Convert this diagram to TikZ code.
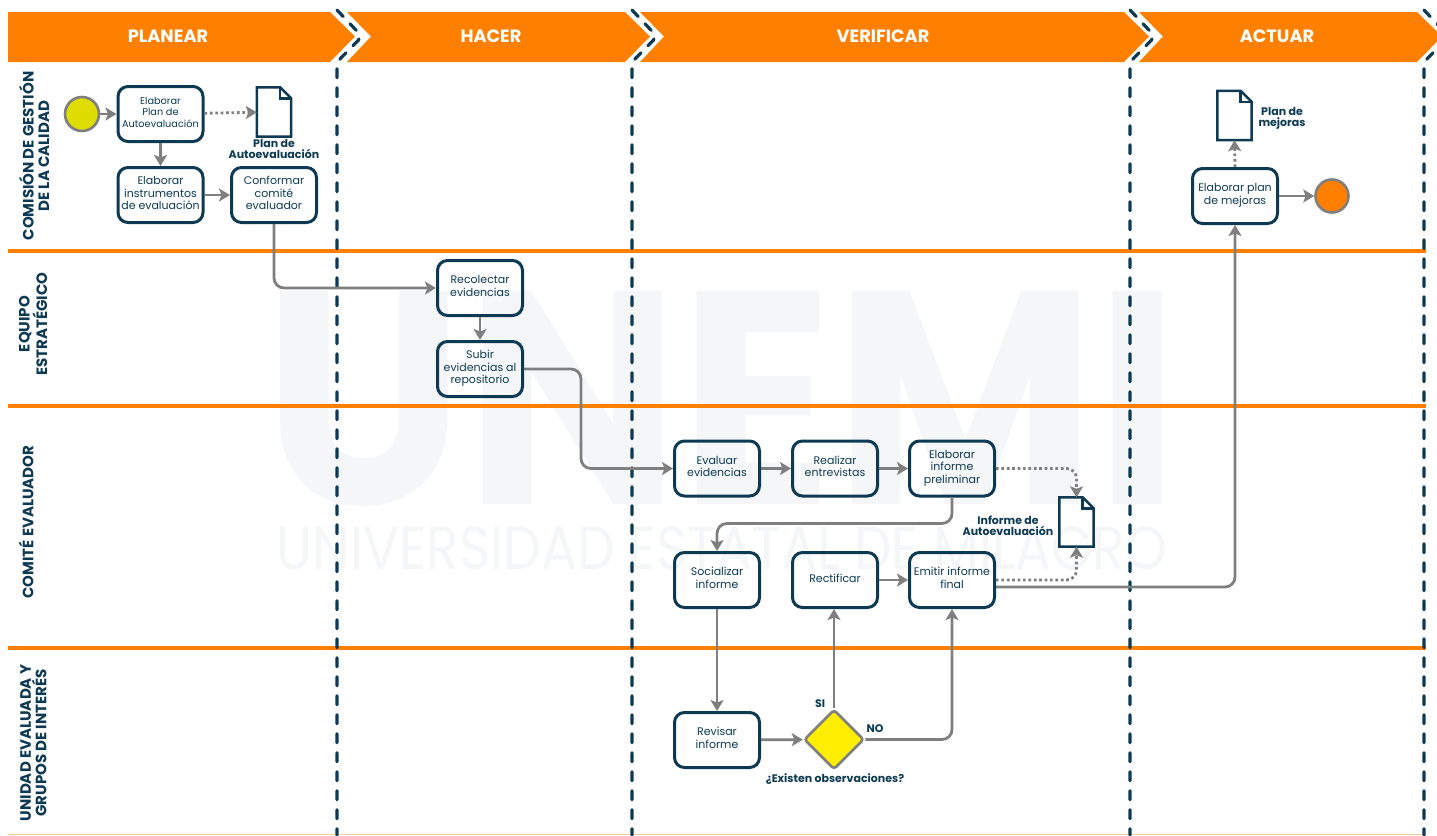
\documentclass[tikz,border=0pt]{standalone}
\usepackage{fontspec}
\usepackage{graphicx}
\setmainfont{Poppins}
\usetikzlibrary{arrows.meta,shapes.geometric}
\definecolor{navy}{HTML}{0D3A52}
\definecolor{flecha}{HTML}{7F7F7F}
\definecolor{naranja}{HTML}{FF8000}
\definecolor{amarillo}{HTML}{FFEE00}
\definecolor{lima}{HTML}{DFDC00}
\definecolor{marca}{HTML}{F4F6F8}
\tikzstyle{every picture}+=[x=1pt,y=-1pt]
\tikzstyle{tarea}=[draw=navy,line width=3pt,rounded corners=10pt,minimum width=85pt,minimum height=55pt,
  inner sep=0pt,align=center,text=navy,font=\fontsize{11}{12.5}\selectfont,
  execute at end node={\rule[-4pt]{0pt}{4pt}}]
\tikzstyle{etiqueta}=[align=center,text=navy,inner sep=0pt,font=\bfseries\fontsize{11}{11}\selectfont]
\tikzstyle{carril}=[align=center,text=navy,inner sep=0pt,rotate=90,font=\bfseries\fontsize{15}{15.5}\selectfont]
\tikzstyle{titulo}=[text=white,inner sep=0pt,font=\bfseries\fontsize{17.8}{18}\selectfont]
\tikzstyle{flujo}=[draw=flecha,line width=2.8pt,rounded corners=10pt,-{Stealth[length=11pt,width=13pt,inset=2.5pt]}]
\tikzstyle{punteado}=[flujo,dash pattern=on 2.7pt off 2.7pt]
\tikzstyle{hoja}=[minimum width=34pt,minimum height=49pt,inner sep=0pt]
\tikzstyle{lineahoja}=[draw=navy,line width=2.5pt,line join=miter]
\newcommand{\hojadoc}[3]{%
  \path (#2,#3) node[hoja] (#1) {};
  \draw[lineahoja] (#1.north west) -- ([xshift=-11pt]#1.north east) -- ([yshift=-11pt]#1.north east)
     -- (#1.south east) -- (#1.south west) -- cycle;
  \draw[lineahoja] ([xshift=-11pt]#1.north east) -- ([xshift=-11pt,yshift=-11pt]#1.north east) -- ([yshift=-11pt]#1.north east);
}
\begin{document}
\begin{tikzpicture}
\useasboundingbox (0,0) rectangle (1437,835);
\clip (0,0) rectangle (1437,835);

% marca de agua
\path (722,398.5) node[inner sep=0pt,text=marca] (marcagrande)
  {\resizebox{915pt}{213pt}{\bfseries UNEMI}};
\path (722,548) node[inner sep=0pt,text=marca] (marcachica)
  {\resizebox{890pt}{43pt}{UNIVERSIDAD ESTATAL DE MILAGRO}};

% encabezado
\fill[naranja] (8,12) -- (330,12) -- (355,36.5) -- (330,62) -- (8,62) -- cycle;
\fill[naranja] (347,12) -- (625,12) -- (650,36.5) -- (625,62) -- (347,62) -- (371,36.5) -- cycle;
\fill[naranja] (640,12) -- (1124,12) -- (1149,36.5) -- (1124,62) -- (640,62) -- (664,36.5) -- cycle;
\fill[naranja] (1139,12) -- (1417,12) -- (1442,36.5) -- (1417,62) -- (1139,62) -- (1163,36.5) -- cycle;
\path (168,36) node[titulo] (planear) {PLANEAR};
\path (491,36) node[titulo] (hacer) {HACER};
\path (883,36) node[titulo] (verificar) {VERIFICAR};
\path (1277,36) node[titulo] (actuar) {ACTUAR};

% carriles
\foreach \y in {250.5,406,648}
  \draw[naranja,line width=4pt] (8,\y) -- (1426,\y);
\draw[naranja!40,line width=1pt] (8,834.5) -- (1426,834.5);
\foreach \x in {337,632,1130,1424}
  \draw[navy,line width=3.2pt,line cap=round,dash pattern=on 9pt off 10pt,rounded corners=5pt]
    (\x,10) -- ({\x+25},36.5) -- (\x,62) -- (\x,835);

\path (34,156) node[carril] (comision) {COMISIÓN DE GESTIÓN\\DE LA CALIDAD};
\path (33,324) node[carril] (equipo) {EQUIPO\\ESTRATÉGICO};
\path (26,522) node[carril] (comite) {COMITÉ EVALUADOR};
\path (33.5,743) node[carril] (unidad) {UNIDAD EVALUADA Y\\GRUPOS DE INTERÉS};

% planear
\path (82,114) node[circle,draw=flecha,fill=lima,line width=2.6pt,minimum size=34pt,inner sep=0pt] (inicio) {};
\path (160.5,114) node[tarea,font=\fontsize{9.75}{11.5}\selectfont] (plan) {Elaborar\\Plan de\\Autoevaluación};
\path (160.5,195) node[tarea] (instrumentos) {Elaborar\\instrumentos\\de evaluación};
\path (274,195) node[tarea] (conformar) {Conformar\\comité\\evaluador};
\hojadoc{docplan}{274}{112}
\path (274,149) node[etiqueta] (txtplan) {Plan de\\Autoevaluación};

% hacer
\path (480,288) node[tarea] (recolectar) {Recolectar\\evidencias};
\path (480,369) node[tarea] (subir) {Subir\\evidencias al\\repositorio};

% verificar
\path (717,468.5) node[tarea] (evaluar) {Evaluar\\evidencias};
\path (835,468.5) node[tarea] (entrevistas) {Realizar\\entrevistas};
\path (952,468.5) node[tarea] (preliminar) {Elaborar\\informe\\preliminar};
\path (717,580) node[tarea] (socializar) {Socializar\\informe};
\path (835,580) node[tarea] (rectificar) {Rectificar};
\path (952,580) node[tarea] (emitir) {Emitir informe\\final};
\path (717,740) node[tarea] (revisar) {Revisar\\informe};
\path (834,739.5) node[diamond,aspect=1,draw=flecha,fill=amarillo,line width=2.6pt,rounded corners=3pt,minimum size=60pt,inner sep=0pt] (decision) {};
\hojadoc{docinforme}{1076.5}{522}
\path (1008,525.5) node[etiqueta] (txtinforme) {Informe de\\Autoevaluación};
\path (835,779) node[etiqueta] (txtobs) {¿Existen observaciones?};
\path (820,704) node[etiqueta] (txtsi) {SI};
\path (875,729) node[etiqueta] (txtno) {NO};

% actuar
\path (1235,196) node[tarea] (mejoras) {Elaborar plan\\de mejoras};
\path (1332,196) node[circle,draw=flecha,fill=naranja,line width=2.6pt,minimum size=33pt,inner sep=0pt] (fin) {};
\hojadoc{docmejoras}{1234.5}{115.5}
\path (1282,118) node[etiqueta] (txtmejoras) {Plan de\\mejoras};

% conectores
\draw[flujo] (inicio) -- (plan);
\draw[punteado] (plan) -- (docplan);
\draw[flujo] (plan) -- (instrumentos);
\draw[flujo] (instrumentos) -- (conformar);
\draw[flujo] (conformar.south) |- (recolectar.west);
\draw[flujo] (recolectar) -- (subir);
\draw[flujo] (subir.east) -- ++(57,0) |- (evaluar.west);
\draw[flujo] (evaluar) -- (entrevistas);
\draw[flujo] (entrevistas) -- (preliminar);
\draw[punteado] (preliminar.east) -| (docinforme.north);
\draw[flujo] (preliminar.south) -- ++(0,26) -| (socializar.north);
\draw[flujo] (socializar) -- (revisar);
\draw[flujo] (revisar) -- (decision);
\draw[flujo] (decision.north) -- (decision.north |- rectificar.south);
\draw[flujo] (decision.east) -| (emitir.south);
\draw[flujo] (rectificar) -- (emitir);
\draw[punteado] (emitir.east) -| (docinforme.south);
\draw[flujo] ([yshift=-7pt]emitir.east) -| (mejoras.south);
\draw[punteado] (mejoras.north) -- (docmejoras.south);
\draw[flujo] (mejoras) -- (fin);
\end{tikzpicture}
\end{document}
